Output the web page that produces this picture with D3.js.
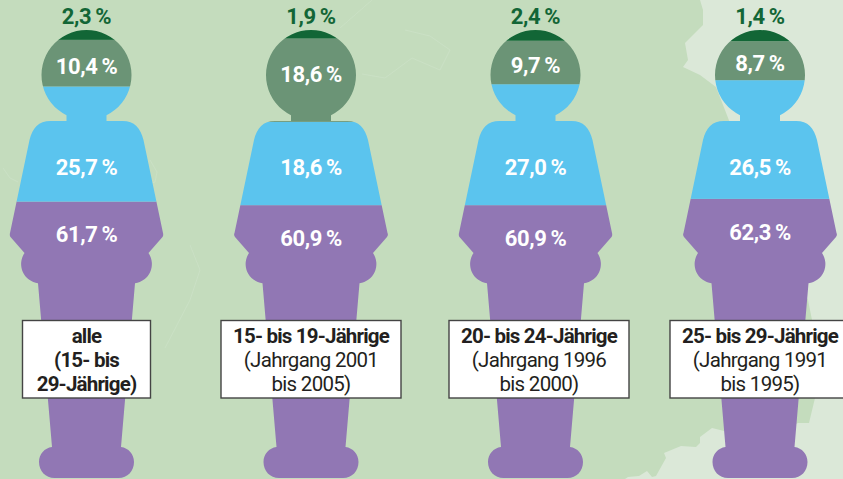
<!DOCTYPE html>
<html lang="de">
<head>
    <meta charset="UTF-8">
    <title>Jahrgänge</title>
    <script src="https://d3js.org/d3.v7.min.js"></script>
    <style>
        html, body { margin: 0; padding: 0; background: #c4dcbd; overflow: hidden; }
        svg { display: block; font-family: Roboto, sans-serif; }
    </style>
</head>
<body>
    <svg width="843" height="479"></svg>

    <script>
    // values in percent, bottom to top of the figure
    var groups = ["alle", "15-19", "20-24", "25-29"]
    var purpleValues = [61.7, 60.9, 60.9, 62.3]
    var blueValues = [25.7, 18.6, 27.0, 26.5]
    var midValues = [10.4, 18.6, 9.7, 8.7]
    var darkValues = [2.3, 1.9, 2.4, 1.4]

    var boxLines = [
        [["alle", true], ["(15- bis", true], ["29-Jährige)", true]],
        [["15- bis 19-Jährige", true], ["(Jahrgang 2001", false], ["bis 2005)", false]],
        [["20- bis 24-Jährige", true], ["(Jahrgang 1996", false], ["bis 2000)", false]],
        [["25- bis 29-Jährige", true], ["(Jahrgang 1991", false], ["bis 1995)", false]]
    ]

    var colors = { dark: "#126636", mid: "#6b9476", blue: "#5bc4ee", purple: "#9177b4" }

    var svg = d3.select("svg")
    var x = d3.scalePoint().domain(groups).range([86.5, 760])
    var y = d3.scaleLinear().domain([0, 100]).range([478, 30])
    var percent = v => v.toFixed(1).replace(".", ",") + "\u2009%"

    // map in the background
    var lightArea = [[700,0],[703,10],[703,25],[685,43],[688,60],[683,67],[700,75],[716,87],[760,200],[808,300],[813,325],[815,398],[809,423],[798,423],[760,440],[712,428],[700,437],[700,443],[696,447],[681,446],[664,453],[666,458],[656,476],[652,477],[647,471],[639,476],[628,477],[625,479],[843,479],[843,0]]
    svg.append("path").attr("d", d3.line()(lightArea) + "Z").attr("fill", "#dbe8d8")

    var borders = [
        [[3,168],[10,178],[18,182]],
        [[150,160],[157,172],[155,182],[142,186]],
        [[340,28],[372,0]],
        [[362,74],[385,78],[412,58],[440,70],[450,50],[430,36],[405,30]],
        [[190,245],[200,270],[190,300],[165,348]]
    ]
    svg.selectAll("path.border").data(borders).enter().append("path")
        .attr("class", "border")
        .attr("d", d3.line())
        .attr("fill", "none")
        .attr("stroke", "#cce1c6")
        .attr("stroke-width", 0.8)

    // silhouette around x=0
    var figure = [
        "M-20,115.3 A45,45 0 1 1 20,115.3 L20,121 L36,121",
        "C48,121 54,128 57,140 L76.5,233 Q77.5,235 76,237 L62,253",
        "A19.5,19.5 0 0 1 48.5,283.3 L34.5,447",
        "C42,448 47.5,454 47.5,462 C47.5,471 41,478 32,478 L-32,478",
        "C-41,478 -47.5,471 -47.5,462 C-47.5,454 -42,448 -34.5,447",
        "L-48.5,283.3 A19.5,19.5 0 0 1 -62,253 L-76,237 Q-77.5,235 -76.5,233",
        "L-57,140 C-54,128 -48,121 -36,121 L-20,121 Z"
    ].join(" ")
    svg.append("clipPath").attr("id", "figure").append("path").attr("d", figure)

    var boxLayout = [
        { dx: 0, width: 128 },
        { dx: 0, width: 180 },
        { dx: 3.5, width: 180 },
        { dx: 0, width: 180 }
    ]

    groups.forEach((g, i) => {
        var p = purpleValues[i], b = p + blueValues[i], m = b + midValues[i]
        var bands = [
            [0, p, colors.purple],
            [p, b, colors.blue],
            [b, m, colors.mid],
            [m, 100, colors.dark]
        ]
        var person = svg.append("g").attr("transform", "translate(" + x(g) + ",0)")
        person.append("g").attr("clip-path", "url(#figure)")
            .selectAll("rect").data(bands).enter().append("rect")
            .attr("x", -90)
            .attr("width", 180)
            .attr("y", d => y(d[1]))
            .attr("height", d => y(d[0]) - y(d[1]))
            .attr("fill", d => d[2])

        var value = (text, yPos, fill) => person.append("text")
            .attr("y", yPos)
            .attr("dy", "0.35em")
            .attr("text-anchor", "middle")
            .attr("font-size", 22)
            .attr("font-weight", 700)
            .attr("letter-spacing", -0.4)
            .attr("fill", fill)
            .text(percent(text))

        value(darkValues[i], 16.5, colors.dark)
        value(midValues[i], Math.min((y(b) + y(m)) / 2 + 3, 74), "#fff")
        value(blueValues[i], 167, "#fff")
        value(purpleValues[i], y(p) + 33, "#fff")

        var box = boxLayout[i]
        var label = person.append("g").attr("transform", "translate(" + box.dx + ",0)")
        label.append("rect")
            .attr("x", -box.width / 2)
            .attr("y", 320.5)
            .attr("width", box.width)
            .attr("height", 77.5)
            .attr("fill", "#fff")
            .attr("stroke", "#444")
            .attr("stroke-width", 1.4)
        label.selectAll("text").data(boxLines[i]).enter().append("text")
            .attr("y", (d, j) => 342.5 + j * 24)
            .attr("text-anchor", "middle")
            .attr("font-size", 20.5)
            .attr("font-weight", d => d[1] ? 700 : 400)
            .attr("letter-spacing", d => d[1] ? -0.8 : -0.7)
            .attr("fill", "#231f20")
            .text(d => d[0])
    })
    </script>
</body>
</html>
